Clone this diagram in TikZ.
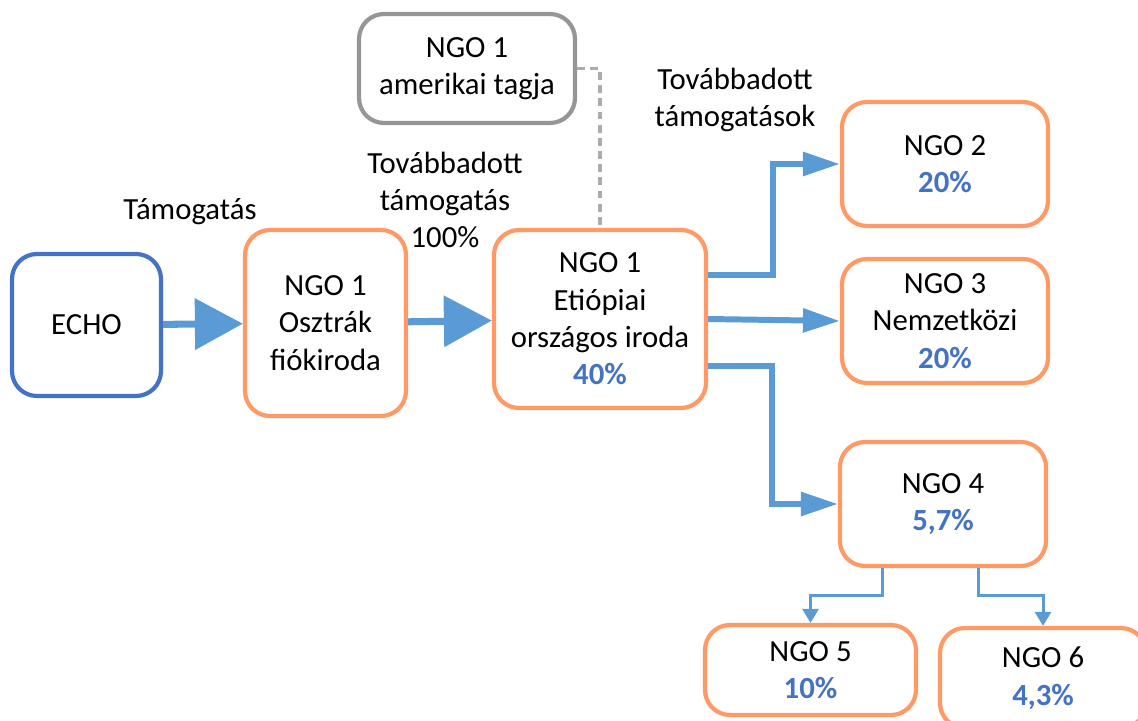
\documentclass[tikz,border=0pt]{standalone}
\usepackage{fontspec}
\setmainfont{Carlito}
\usetikzlibrary{arrows.meta}
\definecolor{ngo_orange}{RGB}{255, 153, 102}
\definecolor{echo_blue}{RGB}{68, 114, 196}
\definecolor{arr_blue}{RGB}{91, 155, 213}
\definecolor{mem_gray}{RGB}{150, 150, 150}
\tikzstyle{ngo}=[rectangle,rounded corners=0.5cm,draw=ngo_orange,fill=white,
  line width=2.4pt,align=center,font=\fontsize{17.5}{21.3}\selectfont]
\tikzstyle{echo}=[ngo,draw=echo_blue]
\tikzstyle{mem}=[ngo,draw=mem_gray]
\tikzstyle{lbl}=[align=center,font=\fontsize{17.5}{21.3}\selectfont]
\tikzstyle{bigarr}=[draw=arr_blue,line width=4pt,
  -{Triangle[length=0.96cm,width=1.0cm,fill=arr_blue]}]
\tikzstyle{midarr}=[draw=arr_blue,line width=3.4pt,
  -{Triangle[length=0.74cm,width=0.46cm,fill=arr_blue]}]
\tikzstyle{smallarr}=[draw=arr_blue,line width=1.7pt,
  -{Triangle[length=0.28cm,width=0.32cm,fill=arr_blue]}]
\newcommand{\pct}[1]{\textbf{\color{echo_blue}#1}}

\begin{document}
\begin{tikzpicture}
    \useasboundingbox (0,0) rectangle (22.76,14.4);
    \node [style=echo,minimum width=2.98cm,minimum height=2.84cm] (echo) at (1.73,7.9) {ECHO};
    \node [style=ngo,minimum width=3.22cm,minimum height=3.72cm] (austria) at (6.51,7.94) {NGO 1\\Osztrák\\fiókiroda};
    \node [style=ngo,minimum width=4.24cm,minimum height=3.56cm] (ethiopia) at (12.0,8.02) {NGO 1\\Etiópiai\\országos iroda\\\pct{40\%}};
    \node [style=mem,minimum width=4.32cm,minimum height=2.18cm] (usa) at (9.34,13.03) {NGO 1\\amerikai tagja};
    \node [style=ngo,minimum width=4.12cm,minimum height=2.48cm] (ngo2) at (18.9,11.12) {NGO 2\\\pct{20\%}};
    \node [style=ngo,minimum width=4.12cm,minimum height=2.48cm] (ngo3) at (18.9,7.98) {NGO 3\\Nemzetközi\\\pct{20\%}};
    \node [style=ngo,minimum width=4.12cm,minimum height=2.48cm] (ngo4) at (18.86,4.32) {NGO 4\\\pct{5,7\%}};
    \node [style=ngo,minimum width=4.22cm,minimum height=1.8cm] (ngo5) at (16.21,1.0) {NGO 5\\\pct{10\%}};
    \node [style=ngo,minimum width=4.12cm,minimum height=2.0cm] (ngo6) at (20.86,0.84) {NGO 6\\\pct{4,3\%}};
    \node [style=lbl] (grant) at (3.8,10.16) {Támogatás};
    \node [style=lbl] (pass) at (8.9,10.4) {Továbbadott\\támogatás\\100\%};
    \node [style=lbl] (passes) at (14.7,12.4) {Továbbadott\\támogatások};
    \draw [style=bigarr] (echo) to (austria);
    \draw [style=bigarr] (austria) to (ethiopia);
    \draw [mem_gray!80,line width=1.8pt,dash pattern=on 4.5pt off 3pt] (usa.east) -| (ethiopia.north);
    \draw [style=midarr] ([yshift=0.88cm]ethiopia.east) -- ++(1.3,0) |- (ngo2.west);
    \draw [style=midarr] (ethiopia.east) to (ngo3.west);
    \draw [style=midarr] ([yshift=-0.94cm]ethiopia.east) -- ++(1.28,0) |- (ngo4.west);
    \draw [style=smallarr] ([xshift=-1.22cm]ngo4.south) -- ++(0,-0.55) -| (ngo5.north);
    \draw [style=smallarr] ([xshift=0.7cm]ngo4.south) -- ++(0,-0.55) -| (ngo6.north);
  \end{tikzpicture}
\end{document}
